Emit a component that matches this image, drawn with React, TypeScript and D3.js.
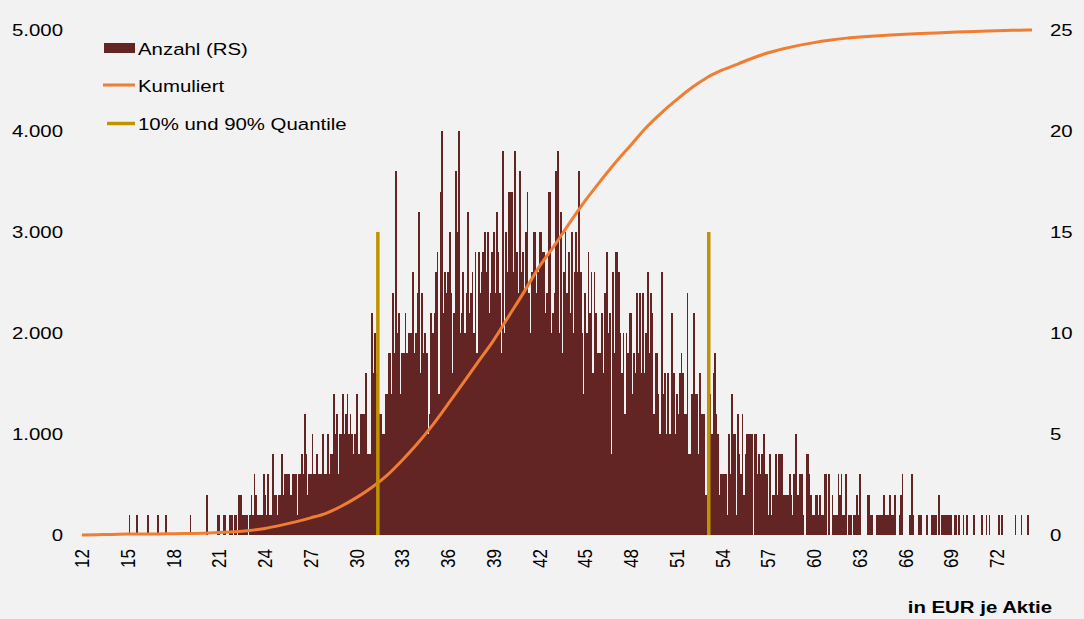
import React from 'react'
import * as d3 from 'd3'

const W = 1084
const H = 619

// Anzahl je 0,10-EUR-Klasse (rechte Skala), ab 12,0 EUR
const binStart = 12.0
const binStep = 0.1
const counts = [
  0, 0, 0, 0, 0, 0, 0, 0, 0, 0,
  0, 0, 0, 0, 0, 0, 0, 0, 0, 0,
  0, 0, 0, 0, 0, 0, 0, 0, 0, 0,
  0, 1, 0, 0, 0, 0, 1, 0, 0, 0,
  0, 0, 0, 1, 0, 0, 0, 0, 0, 0,
  1, 0, 0, 0, 0, 1, 0, 0, 0, 0,
  0, 0, 0, 0, 0, 0, 0, 0, 0, 0,
  0, 1, 0, 0, 0, 0, 0, 0, 0, 0,
  0, 0, 2, 0, 0, 0, 0, 0, 0, 1,
  1, 0, 0, 1, 1, 0, 0, 1, 1, 0,
  1, 1, 0, 2, 2, 1, 1, 1, 1, 0,
  1, 2, 1, 3, 2, 1, 1, 1, 1, 3,
  2, 1, 3, 1, 1, 4, 2, 2, 1, 2,
  2, 4, 2, 3, 3, 3, 3, 2, 3, 3,
  3, 1, 3, 3, 4, 3, 6, 4, 2, 3,
  3, 5, 3, 3, 4, 3, 3, 3, 5, 3,
  3, 5, 3, 4, 4, 7, 5, 6, 3, 5,
  5, 7, 5, 6, 7, 5, 6, 5, 4, 5,
  7, 4, 4, 6, 6, 6, 8, 4, 4, 4,
  11, 8, 10, 8, 8, 6, 6, 5, 5, 7,
  7, 9, 9, 7, 12, 9, 18, 10, 11, 7,
  9, 9, 11, 9, 10, 10, 10, 13, 9, 10,
  12, 16, 8, 12, 9, 10, 9, 5, 6, 11,
  10, 11, 13, 14, 7, 17, 20, 11, 13, 12,
  13, 15, 12, 8, 11, 18, 15, 20, 10, 11,
  13, 10, 12, 16, 11, 12, 13, 10, 14, 9,
  14, 12, 13, 14, 15, 13, 15, 11, 12, 14,
  15, 12, 16, 14, 12, 9, 19, 10, 15, 13,
  17, 17, 17, 13, 19, 14, 12, 18, 13, 14,
  12, 15, 17, 12, 10, 13, 15, 15, 12, 13,
  15, 15, 14, 14, 11, 12, 17, 17, 10, 11,
  12, 18, 19, 10, 16, 9, 13, 15, 12, 14,
  11, 15, 10, 13, 15, 13, 18, 13, 10, 7,
  12, 10, 14, 11, 13, 8, 13, 11, 9, 9,
  9, 11, 8, 12, 14, 10, 11, 4, 13, 9,
  14, 14, 13, 10, 8, 10, 6, 10, 9, 11,
  11, 7, 9, 8, 12, 9, 12, 8, 12, 8,
  10, 13, 9, 12, 11, 6, 9, 9, 7, 5,
  13, 7, 8, 5, 8, 5, 5, 11, 8, 5,
  7, 6, 8, 9, 8, 6, 6, 12, 4, 4,
  7, 11, 7, 7, 4, 8, 6, 6, 6, 2,
  2, 7, 7, 5, 8, 9, 6, 5, 2, 3,
  3, 3, 3, 1, 5, 3, 7, 5, 5, 1,
  6, 4, 3, 6, 2, 4, 5, 5, 5, 5,
  0, 5, 5, 3, 4, 3, 4, 5, 3, 3,
  1, 4, 1, 2, 2, 4, 2, 4, 4, 4,
  2, 2, 2, 2, 3, 2, 1, 3, 5, 2,
  2, 3, 3, 1, 0, 4, 4, 3, 2, 1,
  1, 2, 2, 1, 2, 1, 1, 3, 3, 0,
  3, 0, 2, 1, 1, 1, 3, 2, 3, 1,
  1, 3, 0, 1, 1, 0, 1, 1, 2, 1,
  3, 0, 0, 0, 0, 2, 2, 1, 1, 0,
  0, 1, 1, 1, 1, 1, 2, 1, 1, 1,
  2, 1, 1, 2, 0, 0, 1, 2, 3, 0,
  0, 0, 0, 1, 3, 1, 0, 0, 0, 1,
  1, 0, 0, 0, 1, 0, 0, 1, 1, 1,
  1, 0, 2, 0, 1, 1, 1, 1, 1, 1,
  1, 0, 1, 1, 0, 1, 0, 0, 1, 0,
  1, 0, 0, 0, 0, 1, 0, 0, 0, 0,
  1, 0, 0, 1, 0, 1, 0, 0, 0, 0,
  0, 1, 0, 1, 0, 0, 0, 0, 0, 0,
  0, 0, 1, 0, 0, 0, 1, 0, 0, 0,
  1, 0, 0, 0
]

const cumPrices = [
  12, 13, 14, 15, 16, 17, 18, 19, 20, 21, 22, 23, 24, 25, 26, 27, 28, 29, 30, 31,
  32, 33, 34, 35, 36, 37, 38, 39, 40, 41, 42, 43, 44, 45, 46, 47, 48, 49, 50, 51,
  52, 53, 54, 55, 56, 57, 58, 59, 60, 61, 62, 63, 64, 65, 66, 67, 68, 69, 70, 71,
  72, 73, 74, 74.3
]
const cumValues = [
  0, 3, 6, 10, 10, 11, 12, 15, 18, 25, 32, 45, 65, 95, 130, 170, 215, 285, 370, 470,
  590, 740, 905, 1090, 1295, 1505, 1718, 1930, 2170, 2410, 2660, 2870, 3095, 3310, 3505, 3690, 3862, 4035, 4180, 4310,
  4430, 4530, 4604, 4663, 4723, 4775, 4815, 4848, 4875, 4898, 4917, 4930, 4941, 4950, 4958, 4965, 4971, 4977, 4983, 4988,
  4993, 4997, 4999, 5000
]

// 10%- und 90%-Quantil
const quantiles = [31.4, 53.1]
const quantileTop = 3000

const leftTicks = [0, 1000, 2000, 3000, 4000, 5000]
const rightTicks = [0, 5, 10, 15, 20, 25]
const xTicks = [12, 15, 18, 21, 24, 27, 30, 33, 36, 39, 42, 45, 48, 51, 54, 57, 60, 63, 66, 69, 72]

const BAR = '#632523'
const ORANGE = '#F07D32'
const GOLD = '#C09400'
const FONT = '"Liberation Sans", Arial, sans-serif'
const SX = 1.2 // horizontal stretch of the original export

const fmt = (v: number) => d3.format(',')(v).replace(/,/g, '.')

const App: React.FC = () => {
  const x = d3.scaleLinear().domain([11.95, 74.35]).range([81.24, 1032.8])
  const yL = d3.scaleLinear().domain([0, 5000]).range([535, 30])
  const yR = d3.scaleLinear().domain([0, 25]).range([535, 30])
  const bw = x(binStart + binStep) - x(binStart)

  const line = d3.line<number>()
    .x((_, i) => x(cumPrices[i]))
    .y(d => yL(d))
    .curve(d3.curveMonotoneX)

  const txt = (tx: number, ty: number, extra = '') => `translate(${tx},${ty}) scale(${SX},1)${extra}`

  return (
    <svg width={W} height={H} style={{ position: 'absolute', left: 0, top: 0, background: '#F2F2F2' }}
      fontFamily={FONT} fontSize={17}>
      <rect width={W} height={H} fill="#F2F2F2" />

      {/* Anzahl */}
      <g shapeRendering="crispEdges">
        {counts.map((c, i) => c > 0 && (
          <rect key={i}
            x={x(binStart + i * binStep) - bw / 2}
            y={yR(c)}
            width={bw + 0.3}
            height={yR(0) - yR(c)}
            fill={BAR} />
        ))}
      </g>

      {/* Kumuliert */}
      <path d={line(cumValues) || ''} fill="none" stroke={ORANGE} strokeWidth={3} strokeLinejoin="round" />

      {/* Quantile */}
      {quantiles.map(q => (
        <line key={q} x1={x(q)} x2={x(q)} y1={yL(0)} y2={yL(quantileTop)} stroke={GOLD} strokeWidth={3.5} />
      ))}

      {/* linke Achse */}
      {leftTicks.map(t => (
        <text key={t} transform={txt(63, yL(t))} textAnchor="end" dominantBaseline="central">{fmt(t)}</text>
      ))}

      {/* rechte Achse */}
      {rightTicks.map(t => (
        <text key={t} transform={txt(1050, yR(t))} textAnchor="start" dominantBaseline="central">{t}</text>
      ))}

      {/* x-Achse */}
      {xTicks.map(t => (
        <text key={t} transform={txt(x(t), 549, ' rotate(-90)')} textAnchor="end" dominantBaseline="central">{t}</text>
      ))}

      <text transform={txt(1052, 613)} textAnchor="end" fontWeight="bold">in EUR je Aktie</text>

      {/* Legende */}
      <g>
        <rect x={104} y={43} width={31} height={10} fill={BAR} />
        <text transform={txt(138, 55)}>Anzahl (RS)</text>
        <line x1={103} x2={135} y1={85} y2={85} stroke={ORANGE} strokeWidth={3} />
        <text transform={txt(138, 92)}>Kumuliert</text>
        <line x1={107} x2={135} y1={123.5} y2={123.5} stroke={GOLD} strokeWidth={3.5} />
        <text transform={txt(138, 130)}>10% und 90% Quantile</text>
      </g>
    </svg>
  )
}

export default App
